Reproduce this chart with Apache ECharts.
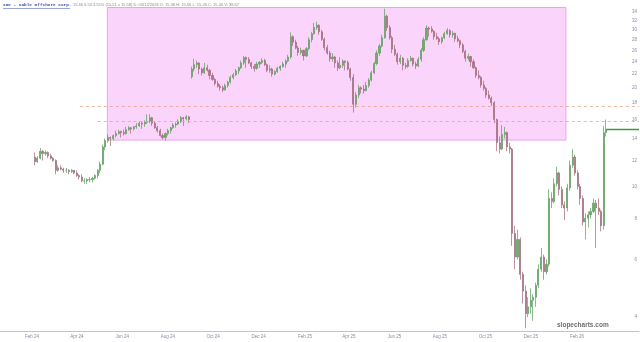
<!DOCTYPE html>
<html><head><meta charset="utf-8">
<script src="https://cdn.jsdelivr.net/npm/echarts@6/dist/echarts.min.js"></script>
<style>html,body{margin:0;padding:0;background:#fff}#c{width:640px;height:342px}</style>
</head><body><div id="c"></div>
<script>
// week starts (Mondays); each week has two candles: Monday-half and Thursday-half
const weeks = [
'2024-02-05','2024-02-12','2024-02-19','2024-02-26','2024-03-04','2024-03-11','2024-03-18','2024-03-25','2024-04-01','2024-04-08',
'2024-04-15','2024-04-22','2024-04-29','2024-05-06','2024-05-13','2024-05-20','2024-05-27','2024-06-03','2024-06-10','2024-06-17',
'2024-06-24','2024-07-01','2024-07-08','2024-07-15','2024-07-22','2024-07-29','2024-08-05','2024-08-12','2024-08-19','2024-08-26',
'2024-09-02','2024-09-09','2024-09-16','2024-09-23','2024-09-30','2024-10-07','2024-10-14','2024-10-21','2024-10-28','2024-11-04',
'2024-11-11','2024-11-18','2024-11-25','2024-12-02','2024-12-09','2024-12-16','2024-12-23','2024-12-30','2025-01-06','2025-01-13',
'2025-01-20','2025-01-27','2025-02-03','2025-02-10','2025-02-17','2025-02-24','2025-03-03','2025-03-10','2025-03-17','2025-03-24',
'2025-03-31','2025-04-07','2025-04-14','2025-04-21','2025-04-28','2025-05-05','2025-05-12','2025-05-19','2025-05-26','2025-06-02',
'2025-06-09','2025-06-16','2025-06-23','2025-06-30','2025-07-07','2025-07-14','2025-07-21','2025-07-28','2025-08-04','2025-08-11',
'2025-08-18','2025-08-25','2025-09-01','2025-09-08','2025-09-15','2025-09-22','2025-09-29','2025-10-06','2025-10-13','2025-10-20',
'2025-10-27','2025-11-03','2025-11-10','2025-11-17','2025-11-24','2025-12-01','2025-12-08','2025-12-15','2025-12-22','2025-12-29',
'2026-01-05','2026-01-12','2026-01-19','2026-01-26','2026-02-02','2026-02-09','2026-02-16','2026-02-23','2026-03-02','2026-03-09'];
const halfOffsetDays = [0, 3];

const open = [
12.3,11.9, 12.2,12.8, 12.6,12.7, 12.4,12.2, 12.0,11.2, 11.4,11.3, 11.2,11.2, 11.1,11.2, 11.0,10.8, 10.7,10.4,
10.4,10.5, 10.5,10.6, 10.8,11.2, 11.7,13.2, 13.8,14.1, 14.0,14.3, 14.5,14.7, 14.6,14.5, 14.9,15.1, 15.0,15.2,
15.3,15.6, 15.5,15.7, 15.8,16.2, 15.6,15.1, 14.8,14.3, 14.1,14.5, 14.8,15.1, 15.4,15.5, 15.8,16.2, 16.1,16.3,
21.6,22.8, 23.5,23.8, 22.8,22.2, 23.0,22.6, 21.8,21.2, 20.6,20.2, 20.0,19.7, 20.3,20.8, 21.5,21.9, 22.5,23.0,
23.8,24.7, 24.4,23.8, 23.2,22.9, 23.6,23.9, 24.2,23.5, 22.6,22.8, 22.0,22.4, 22.9,23.2, 23.6,24.1, 24.8,28.6,
27.5,26.4, 25.6,26.0, 25.0,26.3, 28.0,29.2, 30.5,31.0, 29.6,28.1, 26.5,25.5, 24.5,24.8, 23.8,23.0, 23.4,24.1,
23.9,22.8, 21.5,17.8, 19.0,20.0, 19.8,19.6, 20.3,21.1, 22.2,23.7, 25.5,26.8, 28.4,33.0, 30.5,28.4, 26.2,25.3,
24.0,24.6, 23.4,23.2, 24.2,24.6, 23.6,23.3, 24.4,26.0, 28.0,30.4, 30.2,29.7, 28.6,28.2, 27.6,28.4, 29.2,29.9,
29.0,29.3, 28.2,27.8, 27.0,25.8, 24.6,24.9, 24.0,23.0, 21.8,21.5, 20.4,19.9, 19.0,18.6, 18.0,16.0, 13.6,13.0,
14.4,14.6, 13.2,13.0, 7.2,6.1, 6.9,5.4, 4.8,4.1, 4.3,4.5, 4.6,5.0, 5.6,6.1, 5.5,5.8, 9.2,9.0,
10.2,11.0, 9.8,8.8, 8.6,9.9, 11.6,12.3, 11.0,10.0, 9.2,7.8, 8.0,8.2, 8.4,8.9, 8.6,8.4, 7.6,14.6];
const high = [
12.7,12.4, 13.1,12.9, 12.9,12.8, 12.6,12.3, 12.1,11.6, 11.6,11.4, 11.4,11.3, 11.3,11.2, 11.2,10.9, 10.9,10.6,
10.6,10.7, 10.7,10.9, 11.3,11.9, 13.4,14.0, 14.4,14.2, 14.4,14.8, 14.9,14.8, 14.9,15.2, 15.3,15.2, 15.3,15.6,
15.8,15.7, 15.9,16.6, 16.6,16.3, 15.8,15.3, 15.0,14.5, 14.6,15.0, 15.2,15.6, 15.7,16.0, 16.4,16.3, 16.5,16.4,
23.2,24.5, 24.2,23.9, 23.0,23.8, 23.5,22.8, 22.2,21.4, 21.0,20.5, 20.3,20.6, 21.0,21.8, 22.2,22.8, 23.2,24.2,
25.0,24.9, 24.8,24.0, 23.6,24.0, 24.1,24.6, 24.5,23.7, 23.4,23.0, 22.6,23.2, 23.4,24.0, 24.4,25.2, 29.5,28.9,
28.0,26.8, 26.5,26.1, 26.6,28.5, 29.6,31.5, 31.8,31.2, 30.0,28.4, 27.0,25.9, 25.5,25.0, 24.2,24.8, 24.4,24.2,
24.2,23.0, 22.0,19.4, 20.4,20.2, 20.4,20.8, 21.4,22.5, 24.0,26.0, 27.2,29.0, 34.8,33.4, 31.0,28.8, 27.0,25.6,
25.2,24.8, 23.8,24.6, 25.0,24.7, 24.0,24.8, 26.4,28.5, 31.0,30.7, 30.8,29.9, 29.4,28.5, 28.6,29.6, 30.4,30.1,
29.8,29.4, 28.8,28.0, 27.4,26.1, 25.4,25.0, 24.4,23.2, 22.6,21.7, 21.0,20.1, 19.6,18.8, 18.2,16.1, 14.2,15.4,
15.2,14.7, 13.6,13.1, 7.6,7.4, 7.0,5.5, 5.0,4.6, 4.9,4.7, 5.1,5.8, 6.5,6.2, 6.0,9.8, 9.6,10.6,
11.5,11.1, 10.0,9.0, 10.2,12.0, 13.0,12.5, 11.2,10.2, 9.4,8.3, 8.4,8.6, 9.2,9.1, 9.2,8.5, 15.3,16.0];
const low = [
11.6,11.8, 12.1,12.0, 12.4,12.2, 12.1,11.9, 10.9,11.1, 11.2,11.0, 11.0,10.9, 11.0,10.9, 10.7,10.5, 10.3,10.2,
10.2,10.3, 10.3,10.5, 10.6,11.0, 11.6,12.9, 13.6,13.3, 13.8,14.1, 14.4,14.1, 14.3,14.4, 14.8,14.5, 14.8,15.0,
15.2,15.0, 15.2,15.5, 15.6,15.3, 15.0,14.6, 14.2,13.9, 13.8,14.3, 14.5,15.0, 15.1,15.4, 15.6,15.3, 15.9,15.6,
21.3,22.4, 23.0,22.0, 21.8,22.0, 22.4,21.2, 21.0,20.3, 20.0,19.6, 19.4,19.6, 20.0,20.6, 21.2,21.7, 22.0,22.8,
23.5,23.0, 23.6,22.8, 22.4,22.7, 23.0,23.6, 23.3,22.3, 22.2,21.6, 21.8,22.2, 22.5,23.0, 23.0,23.9, 24.5,26.8,
26.2,25.0, 25.2,24.2, 24.8,26.0, 27.5,29.0, 30.0,29.0, 27.8,26.0, 25.2,24.0, 24.0,23.0, 22.5,22.8, 23.0,22.6,
22.6,21.0, 16.8,17.4, 18.6,19.2, 19.2,19.5, 20.0,20.9, 22.0,23.4, 25.0,26.5, 28.2,29.8, 28.0,25.5, 25.0,23.5,
23.6,22.6, 22.8,23.0, 24.0,23.2, 22.8,23.1, 24.0,25.7, 27.8,28.6, 29.4,28.0, 28.0,27.0, 27.2,28.1, 29.0,28.4,
28.4,27.6, 27.5,26.4, 25.5,24.0, 24.2,23.2, 22.8,21.4, 21.2,20.0, 19.6,18.6, 18.4,17.6, 15.6,12.8, 12.6,12.9,
14.0,12.8, 12.6,6.6, 5.6,6.0, 5.2,4.4, 3.7,4.0, 4.1,3.9, 4.3,4.9, 5.5,5.2, 5.4,5.7, 8.6,8.9,
10.0,9.4, 8.6,7.9, 8.4,9.7, 11.4,10.8, 9.8,8.8, 7.6,6.9, 7.5,8.0, 8.3,6.5, 8.2,7.3, 7.4,14.2];
const close = [
11.9,12.2, 12.8,12.6, 12.7,12.4, 12.2,12.0, 11.2,11.4, 11.3,11.2, 11.2,11.1, 11.2,11.0, 10.8,10.7, 10.4,10.4,
10.5,10.5, 10.6,10.8, 11.2,11.7, 13.2,13.8, 14.1,14.0, 14.3,14.5, 14.7,14.6, 14.5,14.9, 15.1,15.0, 15.2,15.3,
15.6,15.5, 15.7,15.8, 16.2,15.6, 15.1,14.8, 14.3,14.1, 14.5,14.8, 15.1,15.4, 15.5,15.8, 16.2,16.1, 16.3,16.0,
22.8,23.5, 23.8,22.8, 22.2,23.0, 22.6,21.8, 21.2,20.6, 20.2,20.0, 19.7,20.3, 20.8,21.5, 21.9,22.5, 23.0,23.8,
24.7,24.4, 23.8,23.2, 22.9,23.6, 23.9,24.2, 23.5,22.6, 22.8,22.0, 22.4,22.9, 23.2,23.6, 24.1,24.8, 28.6,27.5,
26.4,25.6, 26.0,25.0, 26.3,28.0, 29.2,30.5, 31.0,29.6, 28.1,26.5, 25.5,24.5, 24.8,23.8, 23.0,23.4, 24.1,23.9,
22.8,21.5, 17.8,19.0, 20.0,19.8, 19.6,20.3, 21.1,22.2, 23.7,25.5, 26.8,28.4, 33.0,30.5, 28.4,26.2, 25.3,24.0,
24.6,23.4, 23.2,24.2, 24.6,23.6, 23.3,24.4, 26.0,28.0, 30.4,30.2, 29.7,28.6, 28.2,27.6, 28.4,29.2, 29.9,29.0,
29.3,28.2, 27.8,27.0, 25.8,24.6, 24.9,24.0, 23.0,21.8, 21.5,20.4, 19.9,19.0, 18.6,18.0, 16.0,13.6, 13.0,14.4,
14.6,13.2, 13.0,7.2, 6.1,6.9, 5.4,4.8, 4.1,4.3, 4.5,4.6, 5.0,5.6, 6.1,5.5, 5.8,9.2, 9.0,10.2,
11.0,9.8, 8.8,8.6, 9.9,11.6, 12.3,11.0, 10.0,9.2, 7.8,8.0, 8.2,8.4, 8.9,8.6, 8.4,7.6, 14.6,14.9];

const yTicks = [4,6,8,10,12,14,16,18,20,22,24,26,28,30,32,34];
const xTickDates = ['2024-02-01','2024-04-01','2024-06-01','2024-08-01','2024-10-01','2024-12-01','2025-02-01','2025-04-01','2025-06-01','2025-08-01','2025-10-01','2025-12-01','2026-02-01'];
const xTickLabels = ['Feb 24','Apr 24','Jun 24','Aug 24','Oct 24','Dec 24','Feb 25','Apr 25','Jun 25','Aug 25','Oct 25','Dec 25','Feb 26'];
const zoneBox = {x0:'2024-05-12', x1:'2026-01-17', y0:13.85, y1:35.1};
const levels = [{start:'2024-04-05', value:17.6}, {start:'2024-04-29', value:15.8}];
const lastPrice = 14.9;
const headerName = 'SOC - Sable Offshore Corp.';
const headerQuote = '15.46 0.53 3.55% (15.51 x 15.58) D: 03/12/2026 O: 15.36 H: 15.56 L: 15.26 C: 15.40 V: 38.67';

const xMin = '2023-12-20', xMax = '2026-04-25';
const DAY = 86400000;
const ts = d => +new Date(d + 'T00:00:00Z');
const tickTs = xTickDates.map(ts);
const candleTimes = [];
weeks.forEach(w => halfOffsetDays.forEach(o => candleTimes.push(ts(w) + o * DAY)));

const chart = echarts.init(document.getElementById('c'), null, {renderer:'canvas'});
chart.setOption({
  animation:false,
  grid:{left:0, right:0, top:0, bottom:11},
  xAxis:{
    type:'value', min:ts(xMin), max:ts(xMax),
    axisLine:{show:true, lineStyle:{color:'#c4c4c4', width:1}},
    axisTick:{show:false},
    splitLine:{show:false},
    axisLabel:{customValues:tickTs, fontSize:4.5, color:'#8a8aa8', margin:3,
      formatter:function(v){ let best=0,bd=Infinity; tickTs.forEach((t,i)=>{const d=Math.abs(t-v); if(d<bd){bd=d;best=i;}}); return xTickLabels[best]; }}
  },
  yAxis:{
    type:'log', position:'right', min:3.63, max:37.0,
    axisLine:{show:false}, axisTick:{show:false}, splitLine:{show:false},
    axisLabel:{inside:true, customValues:yTicks, fontSize:4.5, color:'#8a8aa8', margin:2}
  },
  series:[{
    type:'candlestick',
    data:candleTimes.map((t,i)=>[t, open[i], close[i], low[i], high[i]]),
    encode:{x:0, y:[1,2,3,4]},
    barWidth:1.6,
    itemStyle:{color:'#6aae6a', color0:'#b47486', borderColor:'#5c9c5c', borderColor0:'#9e6878', borderWidth:0.7},
    markArea:{silent:true, itemStyle:{color:'#fad4fa', borderColor:'#e7a6e7', borderWidth:1},
      data:[[{xAxis:ts(zoneBox.x0), yAxis:zoneBox.y0},{xAxis:ts(zoneBox.x1), yAxis:zoneBox.y1}]]},
    markLine:{silent:true, symbol:'none', label:{show:false},
      data:[
        [{coord:[ts(levels[0].start), levels[0].value], lineStyle:{color:'#e3a58f', type:[3,3], width:0.8}},{coord:[ts(xMax), levels[0].value]}],
        [{coord:[ts(levels[1].start), levels[1].value], lineStyle:{color:'#e3a58f', type:[3,3], width:0.8}},{coord:[ts(xMax), levels[1].value]}],
        [{coord:[candleTimes[candleTimes.length-1], lastPrice], lineStyle:{color:'#3f9a3f', type:'solid', width:1.3}},{coord:[ts(xMax), lastPrice]}]
      ]}
  }],
  graphic:[
    {type:'text', left:3, top:3, style:{text:headerName, font:'bold 4.4px "Liberation Mono"', fill:'#3a4fb0'}},
    {type:'rect', shape:{x:3, y:8.6, width:67, height:0.5}, style:{fill:'#3a4fb0'}},
    {type:'text', left:73, top:3, style:{text:headerQuote, font:'4px "Liberation Sans"', fill:'#8a8a8a'}},
    {type:'text', left:557, top:322, style:{text:'slopecharts.com', font:'600 6.5px "Liberation Sans"', fill:'#707070'}}
  ]
});
</script></body></html>
